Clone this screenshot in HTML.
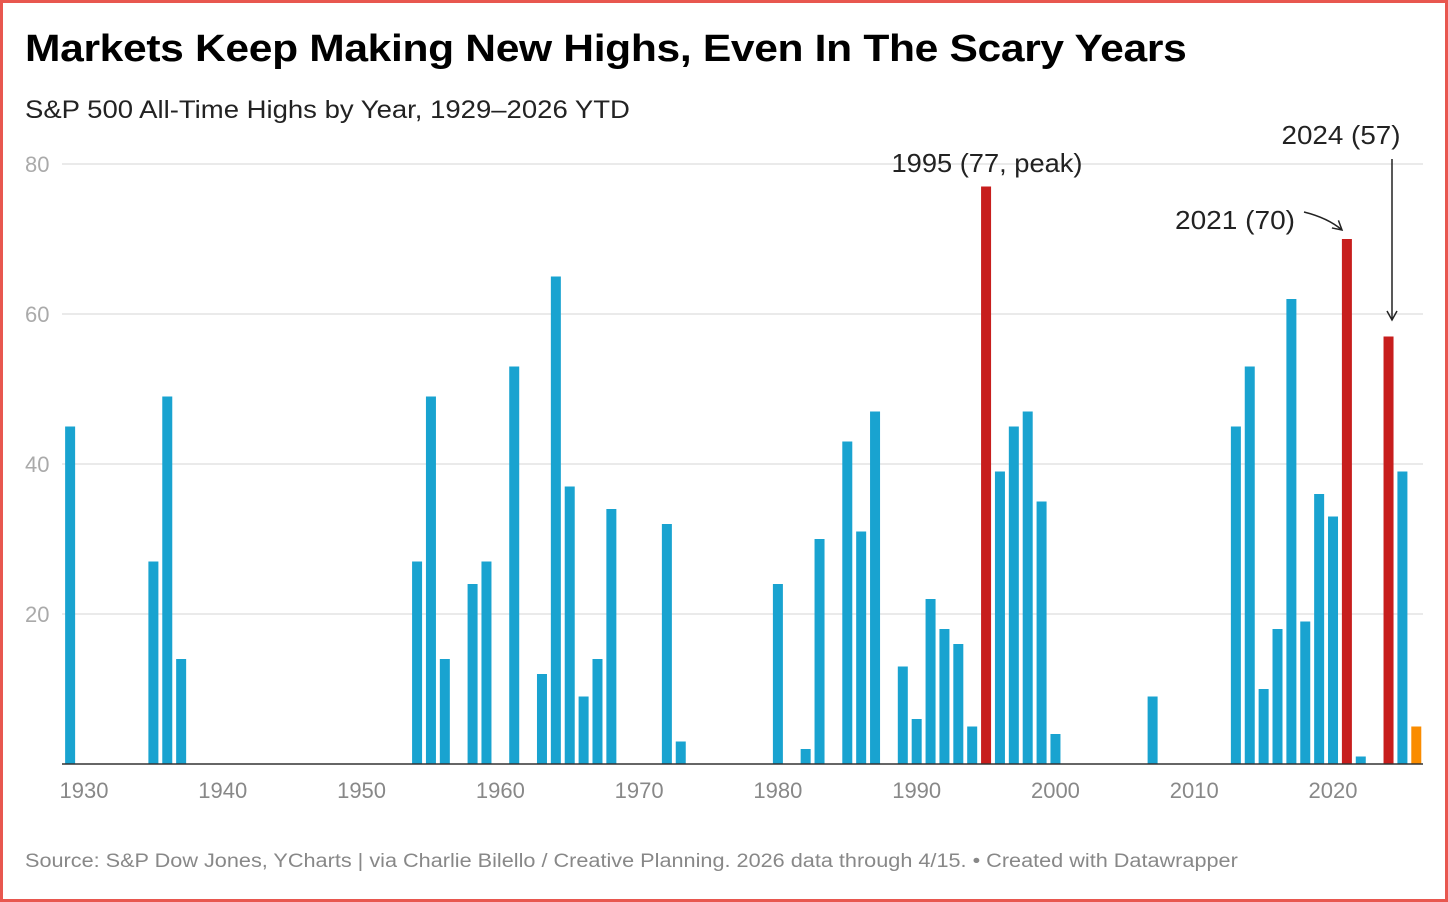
<!DOCTYPE html>
<html><head><meta charset="utf-8"><style>
html,body{margin:0;padding:0;background:#fff;}
body{width:1448px;height:902px;position:relative;overflow:hidden;font-family:"Liberation Sans",sans-serif;}
.frame{position:absolute;left:0;top:0;width:1442px;height:896px;border:3px solid #e8574f;}
h1{position:absolute;left:25px;top:28px;margin:0;font-size:38px;font-weight:bold;color:#000;letter-spacing:-0.3px;transform:scaleX(1.12);transform-origin:left top;white-space:nowrap;}
.sub{position:absolute;left:25px;top:96px;font-size:25px;color:#222;transform:scaleX(1.1);transform-origin:left top;white-space:nowrap;}
.src{position:absolute;left:25px;top:851px;font-size:19px;color:#888;transform:scaleX(1.14);transform-origin:left top;white-space:nowrap;}
</style></head><body>
<div class="frame"></div>
<h1>Markets Keep Making New Highs, Even In The Scary Years</h1>
<div class="sub">S&amp;P 500 All-Time Highs by Year, 1929–2026 YTD</div>
<svg id="chart" width="1448" height="902" style="position:absolute;left:0;top:0">
<defs><marker id="ah" markerWidth="12" markerHeight="12" refX="10" refY="6" orient="auto" markerUnits="userSpaceOnUse"><path d="M1,1 L10,6 L1,11" fill="none" stroke="#222" stroke-width="1.5"/></marker></defs>
</svg>
<div class="src">Source: S&amp;P Dow Jones, YCharts | via Charlie Bilello / Creative Planning. 2026 data through 4/15. • Created with Datawrapper</div>
<script>
const years=[1929,1935,1936,1937,1954,1955,1956,1958,1959,1961,1963,1964,1965,1966,1967,1968,1972,1973,1980,1982,1983,1985,1986,1987,1989,1990,1991,1992,1993,1994,1995,1996,1997,1998,1999,2000,2007,2013,2014,2015,2016,2017,2018,2019,2020,2021,2022,2024,2025,2026];
const values=[45,27,49,14,27,49,14,24,27,53,12,65,37,9,14,34,32,3,24,2,30,43,31,47,13,6,22,18,16,5,77,39,45,47,35,4,9,45,53,10,18,62,19,36,33,70,1,57,39,5];
const highlight=[1995,2021,2024];
const yTicks=[20,40,60,80];
const xTicks=[1930,1940,1950,1960,1970,1980,1990,2000,2010,2020];
const NS="http://www.w3.org/2000/svg";
const svg=document.getElementById('chart');
const x=y=>84+(y-1930)*13.878;
const yS=v=>764-v*7.5;
function mk(t,a){const e=document.createElementNS(NS,t);for(const k in a)e.setAttribute(k,a[k]);svg.appendChild(e);return e;}
yTicks.forEach(t=>{
 const l=mk('line',{x1:62,x2:1423,y1:yS(t),y2:yS(t),stroke:'#e3e3e3','stroke-width':1.5});
 
 
 const tx=mk('text',{x:25,y:yS(t)+8,'font-size':22,fill:'#aaa'});tx.textContent=t;
 
 
});
years.forEach((yr,i)=>{
 let c='#19a3d0';if(highlight.includes(yr))c='#c71e1d';if(yr===2026)c='#fa8c00';
 const r=mk('rect',{x:x(yr)-5,y:yS(values[i]),width:10,height:values[i]*7.5,fill:c});
 
 
});
const ax=mk('line',{x1:62,x2:1423,y1:764,y2:764,stroke:'#333','stroke-width':1.5});


xTicks.forEach(t=>{
 const tx=mk('text',{x:x(t),y:798,'font-size':22,fill:'#888','text-anchor':'middle'});tx.textContent=t;
 
 
});
function ann(txt,xx,yy,name,w){const t=mk('text',{x:xx,y:yy,'font-size':26,fill:'#222','text-anchor':'middle',textLength:w,lengthAdjust:'spacingAndGlyphs'});t.textContent=txt;
 
 }
ann('1995 (77, peak)',987,172,'annotation-1995',191);
ann('2021 (70)',1235,229,'annotation-2021',120);
ann('2024 (57)',1341,144,'annotation-2024',119);
const a1=mk('path',{d:'M1304,212 Q1328,218 1342,230',fill:'none',stroke:'#222','stroke-width':1.5,'marker-end':'url(#ah)'});


const a2=mk('path',{d:'M1392,159 L1392,320',fill:'none',stroke:'#222','stroke-width':1.5,'marker-end':'url(#ah)'});


</script>
</body></html>
